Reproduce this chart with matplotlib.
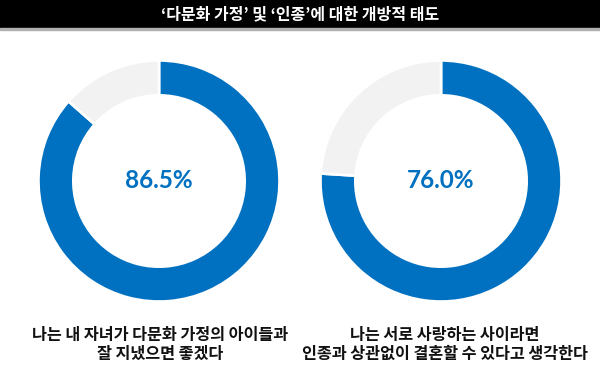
import matplotlib.pyplot as plt
from matplotlib.patches import Rectangle

plt.rcParams['font.family'] = ['Noto Sans CJK KR', 'DejaVu Sans']

title = "‘다문화 가정’ 및 ‘인종’에 대한 개방적 태도"
agree = [86.5, 76.0]
rest = [13.5, 24.0]
labels = ["86.5%", "76.0%"]
captions = ["나는 내 자녀가 다문화 가정의 아이들과\n잘 지냈으면 좋겠다",
            "나는 서로 사랑하는 사이라면\n인종과 상관없이 결혼할 수 있다고 생각한다"]

blue = '#0070C0'
grey = '#F2F2F2'

W, H = 600, 389
fig = plt.figure(figsize=(6, 3.89), dpi=100)

# black title bar
fig.patches.append(Rectangle((0, 1 - 28 / H), 1, 28 / H, transform=fig.transFigure,
                             color='black', zorder=0))
fig.patches.append(Rectangle((0, 1 - 30 / H), 1, 2 / H, transform=fig.transFigure,
                             color='#B0B0B0', zorder=0))
fig.text(0.5, 1 - 14 / H, title, color='white', fontsize=11.5, fontweight='bold',
         ha='center', va='center')

centers = [(159, 181), (441, 181)]
R = 123
for i, (cx, cy) in enumerate(centers):
    ax = fig.add_axes([(cx - R) / W, (H - cy - R) / H, 2 * R / W, 2 * R / H])
    ax.pie([agree[i], rest[i]], colors=[blue, grey], startangle=90, counterclock=False,
           radius=1, wedgeprops=dict(width=0.29, edgecolor='white', linewidth=2))
    ax.set_xlim(-1.02, 1.02)
    ax.set_ylim(-1.02, 1.02)
    ax.set_aspect('equal')
    ax.axis('off')
    ax.text(0, 0, labels[i], color=blue, fontsize=17.5, fontweight='bold',
            family=['Lato', 'DejaVu Sans'], ha='center', va='center')

cap_x = [160, 445]
for i, c in enumerate(captions):
    fig.text(cap_x[i] / W, 1 - 344 / H, c, fontsize=11.7, fontweight='bold', ha='center',
             va='center', linespacing=1.22, color='#111111')

fig.savefig('out.png', dpi=100)
